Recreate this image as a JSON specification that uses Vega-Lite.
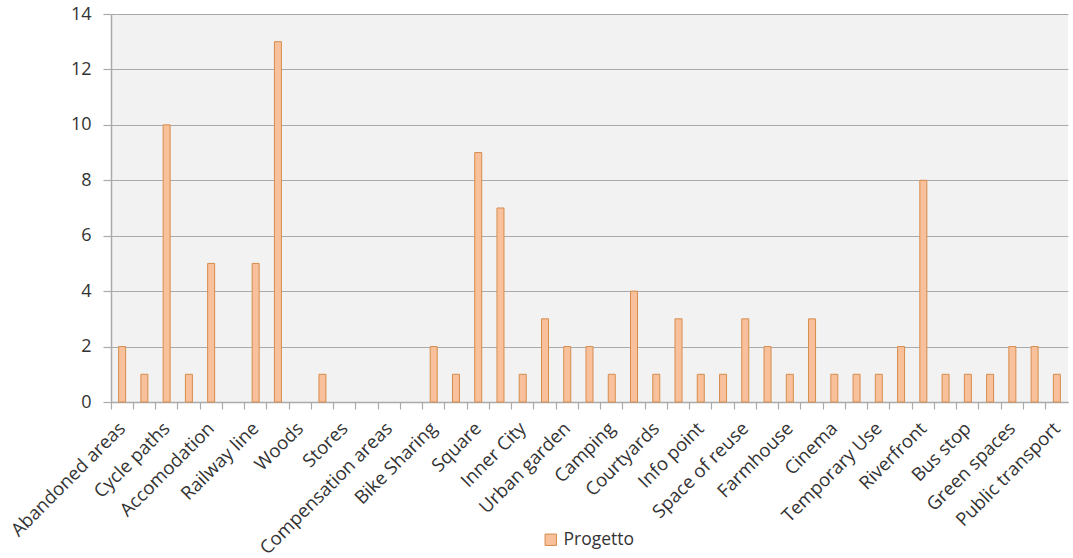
{
  "$schema": "https://vega.github.io/schema/vega-lite/v6.json",
  "width": 957,
  "height": 388,
  "autosize": {"type": "none"},
  "padding": {"left": 111, "top": 14, "right": 5, "bottom": 156},
  "background": "#ffffff",
  "config": {
    "view": {"fill": "#f2f2f2", "stroke": null},
    "font": "Open Sans",
    "axis": {"labelFont": "Open Sans", "labelColor": "#333333", "domainColor": "#aaaaaa", "tickColor": "#aaaaaa", "gridColor": "#aaaaaa", "domainWidth": 1.5, "tickWidth": 1.2, "gridWidth": 1.2}
  },
  "data": {
    "values": [
      {"idx": 0, "category": "Abandoned areas", "value": 2, "series": "Progetto"},
      {"idx": 1, "category": "Pedestrian areas", "value": 1, "series": "Progetto"},
      {"idx": 2, "category": "Cycle paths", "value": 10, "series": "Progetto"},
      {"idx": 3, "category": "Parking", "value": 1, "series": "Progetto"},
      {"idx": 4, "category": "Accomodation", "value": 5, "series": "Progetto"},
      {"idx": 5, "category": "Schools", "value": 0, "series": "Progetto"},
      {"idx": 6, "category": "Railway line", "value": 5, "series": "Progetto"},
      {"idx": 7, "category": "Agricultural park", "value": 13, "series": "Progetto"},
      {"idx": 8, "category": "Woods", "value": 0, "series": "Progetto"},
      {"idx": 9, "category": "Markets", "value": 1, "series": "Progetto"},
      {"idx": 10, "category": "Stores", "value": 0, "series": "Progetto"},
      {"idx": 11, "category": "Sport facilities", "value": 0, "series": "Progetto"},
      {"idx": 12, "category": "Compensation areas", "value": 0, "series": "Progetto"},
      {"idx": 13, "category": "Car sharing", "value": 0, "series": "Progetto"},
      {"idx": 14, "category": "Bike Sharing", "value": 2, "series": "Progetto"},
      {"idx": 15, "category": "Playground", "value": 1, "series": "Progetto"},
      {"idx": 16, "category": "Square", "value": 9, "series": "Progetto"},
      {"idx": 17, "category": "Historic centre", "value": 7, "series": "Progetto"},
      {"idx": 18, "category": "Inner City", "value": 1, "series": "Progetto"},
      {"idx": 19, "category": "Community garden", "value": 3, "series": "Progetto"},
      {"idx": 20, "category": "Urban garden", "value": 2, "series": "Progetto"},
      {"idx": 21, "category": "Hostel", "value": 2, "series": "Progetto"},
      {"idx": 22, "category": "Camping", "value": 1, "series": "Progetto"},
      {"idx": 23, "category": "Cultural centre", "value": 4, "series": "Progetto"},
      {"idx": 24, "category": "Courtyards", "value": 1, "series": "Progetto"},
      {"idx": 25, "category": "Workshops", "value": 3, "series": "Progetto"},
      {"idx": 26, "category": "Info point", "value": 1, "series": "Progetto"},
      {"idx": 27, "category": "Social housing", "value": 1, "series": "Progetto"},
      {"idx": 28, "category": "Space of reuse", "value": 3, "series": "Progetto"},
      {"idx": 29, "category": "Restaurants", "value": 2, "series": "Progetto"},
      {"idx": 30, "category": "Farmhouse", "value": 1, "series": "Progetto"},
      {"idx": 31, "category": "Theatre", "value": 3, "series": "Progetto"},
      {"idx": 32, "category": "Cinema", "value": 1, "series": "Progetto"},
      {"idx": 33, "category": "Events", "value": 1, "series": "Progetto"},
      {"idx": 34, "category": "Temporary Use", "value": 1, "series": "Progetto"},
      {"idx": 35, "category": "Waterfront", "value": 2, "series": "Progetto"},
      {"idx": 36, "category": "Riverfront", "value": 8, "series": "Progetto"},
      {"idx": 37, "category": "Train station", "value": 1, "series": "Progetto"},
      {"idx": 38, "category": "Bus stop", "value": 1, "series": "Progetto"},
      {"idx": 39, "category": "Tram stop", "value": 1, "series": "Progetto"},
      {"idx": 40, "category": "Green spaces", "value": 2, "series": "Progetto"},
      {"idx": 41, "category": "Cycle lanes", "value": 2, "series": "Progetto"},
      {"idx": 42, "category": "Public transport", "value": 1, "series": "Progetto"}
    ]
  },
  "mark": {"type": "bar", "size": 7, "stroke": "#d68c4c", "strokeWidth": 1},
  "encoding": {
    "x": {
      "field": "category",
      "type": "nominal",
      "sort": {"field": "idx", "op": "min"},
      "scale": {"paddingInner": 0, "paddingOuter": 0},
      "axis": {
        "title": null,
        "bandPosition": 0,
        "labelAngle": -45,
        "labelAlign": "right",
        "labelBaseline": "middle",
        "labelFontSize": 18.5,
        "labelPadding": 16,
        "labelLimit": 400,
        "tickSize": 7,
        "labelExpr": "indexof(domain('x'), datum.value) % 2 == 0 ? datum.value : ''",
        "labelOverlap": false,
        "grid": false
      }
    },
    "y": {
      "field": "value",
      "type": "quantitative",
      "scale": {"domain": [0, 14], "nice": false},
      "axis": {
        "title": null,
        "values": [0, 2, 4, 6, 8, 10, 12, 14],
        "labelFontSize": 18,
        "labelPadding": 12,
        "tickSize": 8,
        "grid": true
      }
    },
    "strokeOpacity": {"condition": {"test": "datum.value == 0", "value": 0}, "value": 1},
    "color": {
      "field": "series",
      "type": "nominal",
      "scale": {"domain": ["Progetto"], "range": ["#f9c19b"]},
      "legend": {
        "title": null,
        "orient": "none",
        "legendX": 431,
        "legendY": 517,
        "padding": 0,
        "symbolType": "square",
        "symbolSize": 130,
        "symbolStrokeColor": "#d68c4c",
        "symbolStrokeWidth": 1,
        "symbolOpacity": 1,
        "labelFontSize": 17.5,
        "labelColor": "#333333",
        "labelOffset": 4
      }
    }
  }
}
